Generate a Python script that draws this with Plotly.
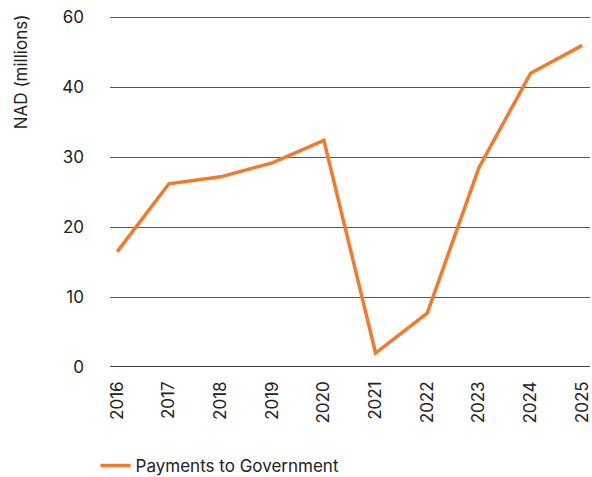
import plotly.graph_objects as go

# Data
years = [2016, 2017, 2018, 2019, 2020, 2021, 2022, 2023, 2024, 2025]
payments = [16.5, 26.2, 27.2, 29.2, 32.4, 2.0, 7.7, 28.5, 42.0, 46.0]

# The source labels its top gridline "60" (not 50)
tick_vals = [0, 10, 20, 30, 40, 50]
tick_text = ["0", "10", "20", "30", "40", "60"]

fig = go.Figure()
fig.add_trace(go.Scatter(
    x=years,
    y=payments,
    mode="lines",
    name="Payments to Government",
    line=dict(color="#F47A2A", width=3.5),
))

# a bit taller than the window so the legend never pushes the margins
fig.update_layout(
    width=592,
    height=485,
    margin=dict(l=110, r=2, t=16, b=117),
    paper_bgcolor="white",
    plot_bgcolor="white",
    font=dict(family="Inter, Roboto, sans-serif", size=17, color="#222222"),
    showlegend=True,
    legend=dict(
        orientation="h",
        x=-0.03, y=-0.278,
        xanchor="left", yanchor="middle",
        font=dict(size=17),
        itemwidth=30,
    ),
    xaxis=dict(
        range=[2015.86, 2025.15],
        tickvals=years,
        ticktext=[str(y) for y in years],
        tickangle=-90,
        showgrid=False,
        zeroline=False,
        ticks="",
        automargin=False,
        ticklabelstandoff=10,
        ticklabeloverflow="allow",
    ),
    yaxis=dict(
        range=[0, 50.2],
        tickvals=tick_vals,
        ticktext=tick_text,
        showgrid=True,
        gridcolor="#555555",
        gridwidth=1,
        zeroline=False,
        showline=False,
        ticks="",
        automargin=False,
        ticklabelstandoff=25,
        ticklabeloverflow="allow",
    ),
    annotations=[dict(
        text="NAD (millions)",
        xref="paper", yref="paper",
        x=-0.185, y=1.01,
        xanchor="center", yanchor="top",
        textangle=-90,
        showarrow=False,
        font=dict(size=17),
    )],
)
fig.add_hline(y=0, line=dict(color="black", width=1.5), layer="below")

# drop the default page margin so the figure fills the window exactly
fig.write_html(
    "out.html",
    config={"displayModeBar": False},
    post_script="document.body.style.margin='0';document.body.style.overflow='hidden';",
)
